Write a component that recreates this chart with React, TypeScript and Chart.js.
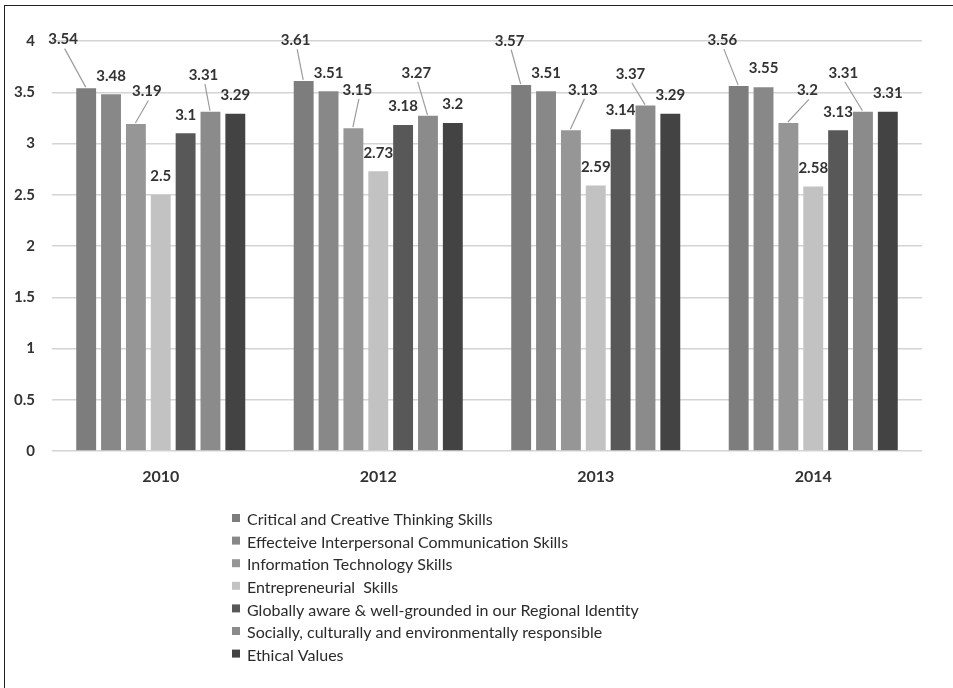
import React, { useEffect, useRef } from 'react';
import { Chart, registerables } from 'chart.js';

Chart.register(...registerables);

const YEARS = ['2010', '2012', '2013', '2014'];

const SERIES_NAMES = [
  'Critical and Creative Thinking Skills',
  'Effecteive Interpersonal Communication Skills',
  'Information Technology Skills',
  'Entrepreneurial  Skills',
  'Globally aware & well-grounded in our Regional Identity',
  'Socially, culturally and environmentally responsible',
  'Ethical Values',
];

const CRITICAL = [3.54, 3.61, 3.57, 3.56];
const INTERPERSONAL = [3.48, 3.51, 3.51, 3.55];
const INFO_TECH = [3.19, 3.15, 3.13, 3.2];
const ENTREPRENEURIAL = [2.5, 2.73, 2.59, 2.58];
const GLOBALLY_AWARE = [3.1, 3.18, 3.14, 3.13];
const SOCIALLY = [3.31, 3.27, 3.37, 3.31];
const ETHICAL = [3.29, 3.2, 3.29, 3.31];

const SERIES_VALUES = [CRITICAL, INTERPERSONAL, INFO_TECH, ENTREPRENEURIAL, GLOBALLY_AWARE, SOCIALLY, ETHICAL];

const SERIES_COLORS = ['#7d7d7d', '#888888', '#969696', '#c2c2c2', '#585858', '#8b8b8b', '#434343'];

const Y_MIN = 0;
const Y_MAX = 4;
const Y_STEP = 0.5;

// label placement offsets (dx, dy from bar top) for labels drawn with leader lines
const LEADER_LABELS: Record<string, [number, number]> = {
  '0-0': [-23, -48.5],
  '0-1': [-8, -40.5],
  '0-2': [-11.5, -44.3],
  '0-3': [-16.3, -46],
  '2-0': [11, -32.6],
  '2-1': [4, -38.3],
  '2-2': [12, -40.3],
  '2-3': [19, -32.6],
  '5-0': [-7, -36.6],
  '5-1': [-11.7, -43],
  '5-2': [-15, -31.6],
  '5-3': [-19.7, -39],
};

const FONT = 'Lato, "Open Sans", sans-serif';
const TEXT_COLOR = '#333333';

const barLabelPlugin = {
  id: 'barLabels',
  afterDatasetsDraw(chart: any) {
    const ctx = chart.ctx;
    ctx.save();
    ctx.font = `bold 15px ${FONT}`;
    ctx.textAlign = 'center';
    ctx.textBaseline = 'middle';
    chart.data.datasets.forEach((ds: any, i: number) => {
      const meta = chart.getDatasetMeta(i);
      meta.data.forEach((bar: any, j: number) => {
        const v = ds.data[j];
        const off = LEADER_LABELS[`${i}-${j}`];
        let lx = bar.x;
        let ly = bar.y - 18.5;
        if (off) {
          lx = bar.x + off[0];
          ly = bar.y + off[1];
          ctx.strokeStyle = '#9c9c9c';
          ctx.lineWidth = 1.2;
          ctx.beginPath();
          ctx.moveTo(lx + 1.5, ly + 9);
          ctx.lineTo(bar.x - 0.5, bar.y - 1);
          ctx.stroke();
        }
        ctx.fillStyle = TEXT_COLOR;
        ctx.fillText(String(v), lx, ly);
      });
    });
    ctx.restore();
  },
};

const legendPlugin = {
  id: 'verticalLegend',
  afterDraw(chart: any) {
    const ctx = chart.ctx;
    const area = chart.chartArea;
    const x0 = 232;
    const y0 = area.bottom + 69;
    const gap = 22.6;
    ctx.save();
    ctx.font = `16px ${FONT}`;
    ctx.textAlign = 'left';
    ctx.textBaseline = 'middle';
    chart.data.datasets.forEach((ds: any, i: number) => {
      const y = y0 + i * gap;
      ctx.fillStyle = ds.backgroundColor;
      ctx.fillRect(x0, y - 6, 8, 8);
      ctx.fillStyle = '#2b2b2b';
      ctx.fillText(ds.label, x0 + 15, y);
    });
    ctx.restore();
  },
};

export default function App() {
  const canvasRef = useRef<HTMLCanvasElement | null>(null);

  useEffect(() => {
    const canvas = canvasRef.current;
    if (!canvas) return;
    const chart = new Chart(canvas, {
      type: 'bar',
      data: {
        labels: YEARS,
        datasets: SERIES_NAMES.map((name, i) => ({
          label: name,
          data: SERIES_VALUES[i],
          backgroundColor: SERIES_COLORS[i],
          borderWidth: 0,
          categoryPercentage: 0.8,
          barPercentage: 0.8,
        })),
      },
      options: {
        responsive: false,
        animation: false,
        devicePixelRatio: 1,
        layout: { padding: { top: 41, right: 31, left: 0, bottom: 0 } },
        plugins: {
          legend: { display: false },
          tooltip: { enabled: false },
        },
        scales: {
          x: {
            grid: { display: false, drawTicks: false },
            border: { display: false },
            ticks: {
              color: TEXT_COLOR,
              padding: 16,
              font: { family: FONT, size: 16, weight: 'bold' },
            },
            afterFit: (s: any) => {
              s.height = 237;
            },
          },
          y: {
            min: Y_MIN,
            max: Y_MAX,
            ticks: {
              stepSize: Y_STEP,
              color: TEXT_COLOR,
              padding: 17,
              font: { family: FONT, size: 15, weight: 'bold' },
              callback: (v: any) => String(Number(v)),
            },
            grid: { color: '#d4d4d4', lineWidth: 1.5, drawTicks: false, tickLength: 0 },
            border: { display: false },
            afterFit: (s: any) => {
              s.width = 52;
            },
          },
        },
      } as any,
      plugins: [barLabelPlugin, legendPlugin],
    });
    return () => chart.destroy();
  }, []);

  return (
    <div style={{ position: 'fixed', left: 0, top: 0, width: 953, height: 688, background: '#ffffff', overflow: 'hidden' }}>
      <canvas ref={canvasRef} width={953} height={688} style={{ display: 'block', width: 953, height: 688 }} />
      <div
        style={{
          position: 'absolute',
          left: 4,
          top: 5,
          right: -10,
          bottom: -10,
          borderLeft: '1.5px solid #222',
          borderTop: '1.5px solid #222',
          pointerEvents: 'none',
        }}
      />
    </div>
  );
}
